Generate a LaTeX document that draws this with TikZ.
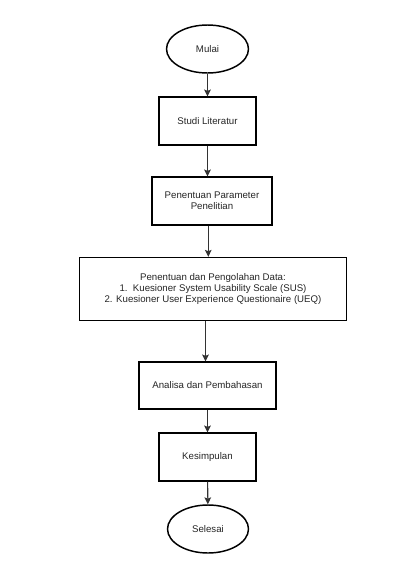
\documentclass[tikz,border=0pt]{standalone}
\usepackage{fontspec}
\setmainfont{Liberation Sans}
\usetikzlibrary{shapes.geometric,arrows.meta}
\begin{document}
\begin{tikzpicture}[x=0.75pt,y=-0.75pt,
  txt/.style={font=\fontsize{7.25}{8.4}\selectfont, text=black!85},
  box/.style={txt, draw=black, line width=0.8pt, rectangle, align=center, inner sep=0pt},
  term/.style={txt, draw=black, line width=1.1pt, ellipse, inner sep=0pt},
  arr/.style={-{Stealth[length=5.2pt,width=5pt,inset=1pt]}, line width=0.8pt, draw=black!80}]
\fill[white] (0,0) rectangle (420,572);
\useasboundingbox (0,0) rectangle (420,572);
\node[term, minimum width=61.5pt, minimum height=36pt] (start) at (207.5,49) {Mulai};
\node[box, minimum width=72.75pt, minimum height=36pt] (studi) at (207.5,121) {Studi Literatur};
\node[box, minimum width=90pt, minimum height=36pt] (param) at (212,201) {Penentuan Parameter\\Penelitian};
\node[box, minimum width=200pt, minimum height=47.5pt] (big) at (213,289) {Penentuan dan Pengolahan Data:\\1.\ \ Kuesioner System Usability Scale (SUS)\\2. Kuesioner User Experience Questionaire (UEQ)};
\node[box, minimum width=102.75pt, minimum height=35.25pt] (ana) at (207.5,385.5) {Analisa dan Pembahasan};
\node[box, minimum width=72.75pt, minimum height=36pt] (kes) at (207.5,457) {Kesimpulan};
\node[term, minimum width=60.75pt, minimum height=36pt] (end) at (208,529) {Selesai};
\draw[arr] (start) -- (studi);
\draw[arr] (studi.south) -- (studi.south |- param.north);
\draw[arr] ([xshift=-2.8pt]param.south) -- ([xshift=-2.8pt]param.south |- big.north);
\draw[arr] ([xshift=-1.5pt]ana.north |- big.south) -- ([xshift=-1.5pt]ana.north);
\draw[arr] (ana) -- (kes);
\draw[arr] (kes) -- (end);
\end{tikzpicture}
\end{document}
